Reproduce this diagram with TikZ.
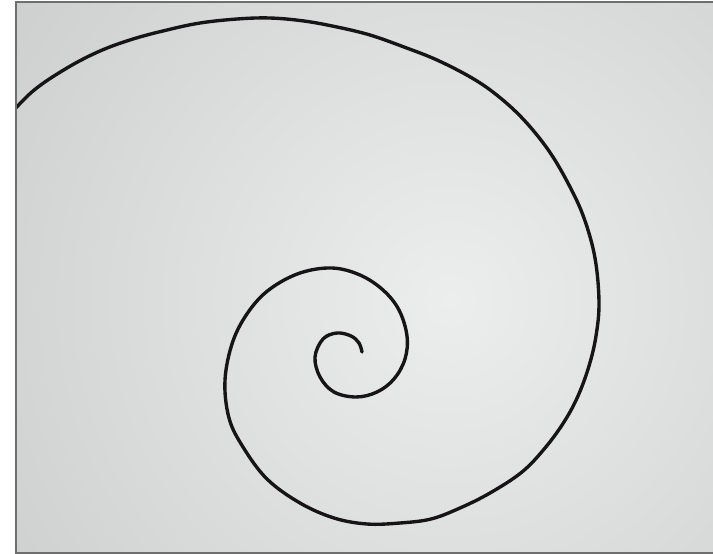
\documentclass[tikz,border=0pt]{standalone}
\usepackage{tikz}

\definecolor{paperdark}{RGB}{196,198,198}
\definecolor{paperlight}{RGB}{236,237,237}
\definecolor{inkline}{RGB}{22,20,22}
\definecolor{framegray}{RGB}{110,110,110}

\begin{document}
\begin{tikzpicture}[x=0.025cm, y=-0.025cm]
    \useasboundingbox (0, 0) rectangle (713, 554);

    % paper
    \begin{scope}
        \clip (16, 2) rectangle (713, 553);
        \shade[inner color=paperlight, outer color=paperdark]
            (450, 300) circle (700);

        % spiral, from the inner hook outwards
        \draw[inkline, line width=2.4pt, line cap=round, line join=round]
            plot[smooth, tension=0.6] coordinates {
                (362, 352) (359, 343) (351, 336) (337, 333) (323, 339)
                (315, 357) (320, 377) (334, 392) (356, 397) (377, 392)
                (394, 379) (405, 359) (407, 336) (399, 310) (383, 290)
                (360, 275) (332, 268) (300, 273) (270, 289) (249, 311)
                (233, 341) (225, 380) (229, 418) (243, 447) (267, 479)
                (300, 503) (334, 518) (367, 524) (400, 523) (431, 519)
                (460, 508) (490, 493) (522, 472) (545, 448) (564, 422)
                (578, 396) (589, 366) (596, 336) (599, 302) (595, 258)
                (584, 218) (569, 185) (549, 151) (524, 120) (498, 96)
                (472, 78) (437, 60) (404, 47) (370, 35) (337, 27)
                (304, 21) (270, 18) (237, 19) (200, 23) (167, 30)
                (133, 39) (100, 51) (67, 68) (33, 91) (5, 120)
            };
    \end{scope}

    % frame
    \draw[framegray, line width=1.3pt] (714, 2) -- (16, 2) -- (16, 553) -- (714, 553);
\end{tikzpicture}
\end{document}
